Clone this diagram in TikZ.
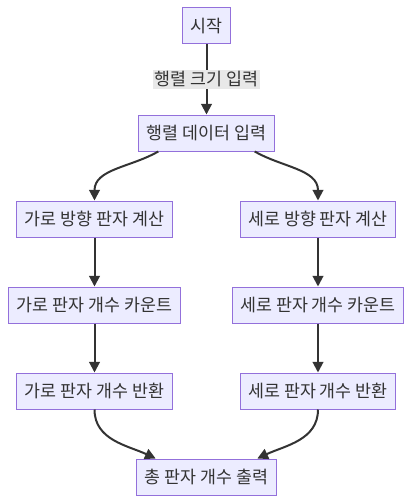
\documentclass[tikz,border=0pt]{standalone}
\usepackage{fontspec}
\setmainfont{Noto Sans CJK KR}
\usetikzlibrary{arrows.meta}
\definecolor{boxfill}{HTML}{ECECFF}
\definecolor{boxline}{HTML}{9370DB}
\definecolor{edgeline}{HTML}{333333}
\definecolor{labelbg}{HTML}{E8E8E8}
\tikzset{
  stepbox/.style={draw=boxline, fill=boxfill, line width=0.75pt,
    minimum height=27pt, inner xsep=6pt, inner ysep=0pt, text=edgeline,
    font=\fontsize{13}{15}\selectfont},
  flow/.style={draw=edgeline, line width=1.5pt,
    -{Triangle[length=8pt,width=8pt]}},
  edgelabel/.style={fill=labelbg, inner xsep=1pt, inner ysep=1pt,
    text=edgeline, font=\fontsize{13}{15}\selectfont}
}
\begin{document}
\begin{tikzpicture}[x=0.75pt, y=-0.75pt]
  \useasboundingbox (0,0) rectangle (413,503);
  % top part
  \node[stepbox] (start) at (206.5, 26) {시작};
  \node[stepbox] (data) at (206.5, 133) {행렬 데이터 입력};
  % left branch
  \node[stepbox] (garoA) at (94.5, 219) {가로 방향 판자 계산};
  \node[stepbox] (garoB) at (94.5, 305) {가로 판자 개수 카운트};
  \node[stepbox] (garoC) at (94.5, 391) {가로 판자 개수 반환};
  % right branch
  \node[stepbox] (seroA) at (318, 219) {세로 방향 판자 계산};
  \node[stepbox] (seroB) at (318, 305) {세로 판자 개수 카운트};
  \node[stepbox] (seroC) at (318, 391) {세로 판자 개수 반환};
  % result
  \node[stepbox] (total) at (206.5, 477) {총 판자 개수 출력};

  \draw[flow] (start) -- node[edgelabel] {행렬 크기 입력} (data);
  \draw[flow] (data.201) to[out=-150, in=90] (garoA.north);
  \draw[flow] (data.339) to[out=-30, in=90] (seroA.north);
  \draw[flow] (garoA) -- (garoB);
  \draw[flow] (garoB) -- (garoC);
  \draw[flow] (seroA) -- (seroB);
  \draw[flow] (seroB) -- (seroC);
  \draw[flow] (garoC.south) to[out=-90, in=155] (total.160);
  \draw[flow] (seroC.south) to[out=-90, in=25] (total.20);
\end{tikzpicture}
\end{document}
